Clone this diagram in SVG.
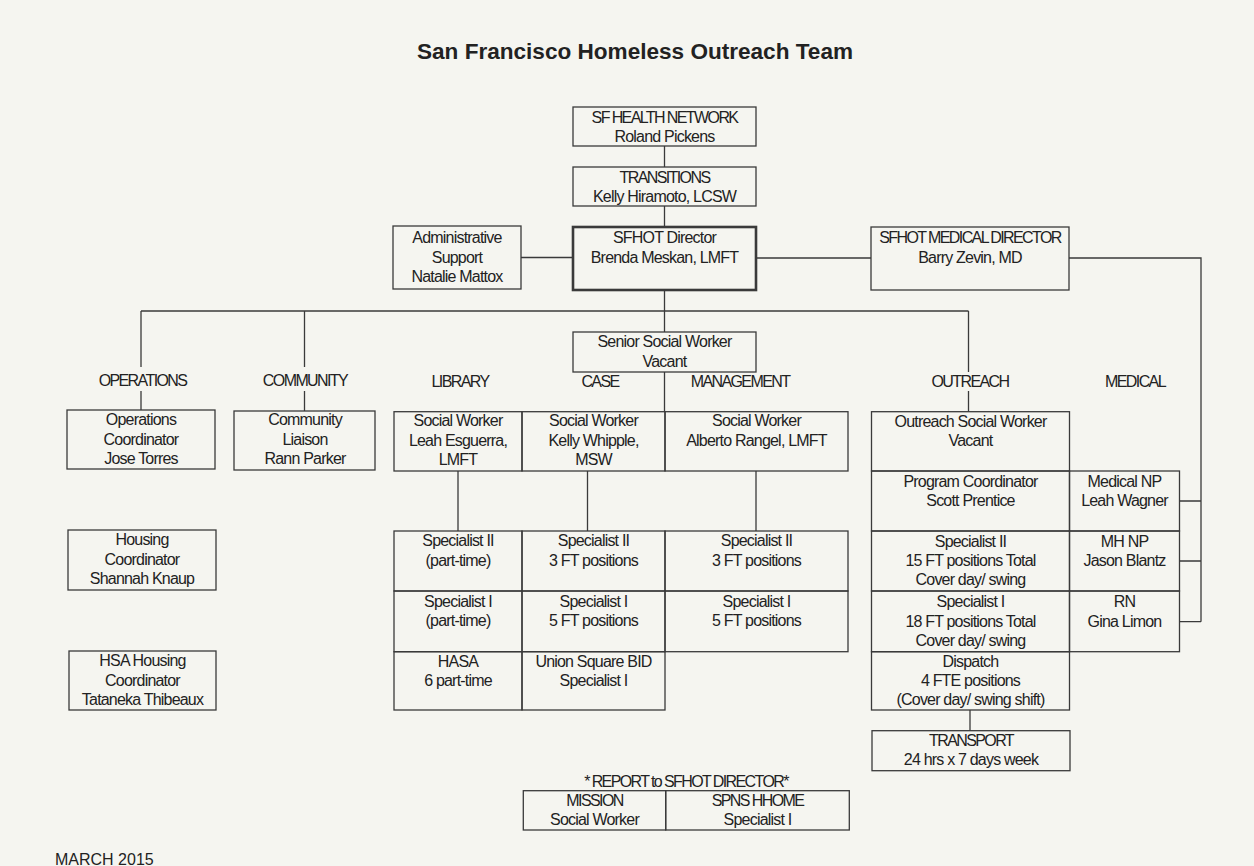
<svg xmlns="http://www.w3.org/2000/svg" width="1254" height="866" viewBox="0 0 1254 866">
<style>
.bx{fill:none;stroke:#3a3a3a;stroke-width:1.3}
.bold{stroke-width:2.6}
.ln{fill:none;stroke:#3a3a3a;stroke-width:1.3}
text{font-family:"Liberation Sans",Arial,sans-serif;font-size:16px;fill:#222;text-anchor:middle;letter-spacing:-0.8px}
.c{letter-spacing:-1.6px}
.title{font-size:22px;font-weight:bold;letter-spacing:0}
</style>
<rect x="0" y="0" width="1254" height="866" fill="#f5f5f0"/>
<text class="title" x="635" y="59" textLength="436" lengthAdjust="spacingAndGlyphs">San Francisco Homeless Outreach Team</text>

<g id="connectors">
<path class="ln" d="M664.5 146V167M664.5 206V227M664.5 290V332M664.5 372V411.7"/>
<path class="ln" d="M521 257.5H573M756 258H871"/>
<path class="ln" d="M1069 258H1201V621.7M1179.5 501H1201M1179.5 561H1201M1179.5 621.7H1201"/>
<path class="ln" d="M141 311H968.5"/>
<path class="ln" d="M141 311V367M141 391V410M304.5 311V367M304.5 391V411M968.5 311V372M968.5 391V411.7"/>
<path class="ln" d="M458 471V531M587.5 471V531M756 471V531"/>
<path class="ln" d="M970 710V730.7"/>
</g>

<g id="n-health"><rect class="bx" x="573" y="107" width="183" height="39"/>
<text class="c" x="664.5" y="123">SF HEALTH NETWORK</text><text x="664.5" y="142">Roland Pickens</text></g>
<g id="n-transitions"><rect class="bx" x="573" y="167" width="183" height="39"/>
<text class="c" x="664.5" y="182.5">TRANSITIONS</text><text x="664.5" y="201.7">Kelly Hiramoto, LCSW</text></g>
<g id="n-director"><rect class="bx bold" x="573" y="227" width="183" height="63"/>
<text x="664.5" y="243.3">SFHOT Director</text><text x="664.5" y="263">Brenda Meskan, LMFT</text></g>
<g id="n-admin"><rect class="bx" x="393" y="226" width="128" height="63"/>
<text x="457" y="242.7">Administrative</text><text x="457" y="262.7">Support</text><text x="457" y="281.7">Natalie Mattox</text></g>
<g id="n-meddir"><rect class="bx" x="871" y="227" width="198" height="63"/>
<text class="c" x="970" y="243.3">SFHOT MEDICAL DIRECTOR</text><text x="970" y="263.3">Barry Zevin, MD</text></g>
<g id="n-senior"><rect class="bx" x="573" y="332" width="183" height="40"/>
<text x="664.5" y="347.3">Senior Social Worker</text><text x="664.5" y="366.7">Vacant</text></g>

<g id="labels">
<text class="c" x="142.5" y="386">OPERATIONS</text>
<text class="c" x="305" y="386">COMMUNITY</text>
<text class="c" x="460" y="387">LIBRARY</text>
<text class="c" x="600" y="387">CASE</text>
<text class="c" x="740" y="387">MANAGEMENT</text>
<text class="c" x="970" y="387">OUTREACH</text>
<text class="c" x="1135" y="387">MEDICAL</text>
</g>

<g id="n-ops"><rect class="bx" x="67" y="410" width="148" height="59"/>
<text x="141" y="425">Operations</text><text x="141" y="445">Coordinator</text><text x="141" y="464.3">Jose Torres</text></g>
<g id="n-community"><rect class="bx" x="234" y="411" width="141" height="59"/>
<text x="305" y="425">Community</text><text x="305" y="445">Liaison</text><text x="305" y="464.3">Rann Parker</text></g>
<g id="n-housing"><rect class="bx" x="68" y="530" width="148" height="60"/>
<text x="142" y="545">Housing</text><text x="142" y="565">Coordinator</text><text x="142" y="584">Shannah Knaup</text></g>
<g id="n-hsa"><rect class="bx" x="69" y="651" width="147" height="59"/>
<text x="142.5" y="666">HSA Housing</text><text x="142.5" y="686">Coordinator</text><text x="142.5" y="705">Tataneka Thibeaux</text></g>

<g id="n-sw-library"><rect class="bx" x="394" y="411.7" width="128" height="59.3"/>
<text x="458" y="426">Social Worker</text><text x="458" y="446">Leah Esguerra,</text><text x="458" y="465">LMFT</text></g>
<g id="n-sw-case"><rect class="bx" x="522" y="411.7" width="143" height="59.3"/>
<text x="593.5" y="426">Social Worker</text><text x="593.5" y="446">Kelly Whipple,</text><text x="593.5" y="465">MSW</text></g>
<g id="n-sw-mgmt"><rect class="bx" x="665" y="411.7" width="183" height="59.3"/>
<text x="756.5" y="426">Social Worker</text><text x="756.5" y="446">Alberto Rangel, LMFT</text></g>

<g id="n-s2-library"><rect class="bx" x="394" y="531" width="128" height="60"/>
<text x="458" y="546">Specialist II</text><text x="458" y="565.7">(part-time)</text></g>
<g id="n-s2-case"><rect class="bx" x="522" y="531" width="143" height="60"/>
<text x="593.5" y="546">Specialist II</text><text x="593.5" y="565.7">3 FT positions</text></g>
<g id="n-s2-mgmt"><rect class="bx" x="665" y="531" width="183" height="60"/>
<text x="756.5" y="546">Specialist II</text><text x="756.5" y="565.7">3 FT positions</text></g>
<g id="n-s1-library"><rect class="bx" x="394" y="591" width="128" height="60.7"/>
<text x="458" y="606.7">Specialist I</text><text x="458" y="626">(part-time)</text></g>
<g id="n-s1-case"><rect class="bx" x="522" y="591" width="143" height="60.7"/>
<text x="593.5" y="606.7">Specialist I</text><text x="593.5" y="626">5 FT positions</text></g>
<g id="n-s1-mgmt"><rect class="bx" x="665" y="591" width="183" height="60.7"/>
<text x="756.5" y="606.7">Specialist I</text><text x="756.5" y="626">5 FT positions</text></g>
<g id="n-hasa"><rect class="bx" x="394" y="651.7" width="128" height="58.3"/>
<text x="458" y="666.7">HASA</text><text x="458" y="686">6 part-time</text></g>
<g id="n-usbid"><rect class="bx" x="522" y="651.7" width="143" height="58.3"/>
<text x="593.5" y="666.7">Union Square BID</text><text x="593.5" y="686">Specialist I</text></g>

<g id="n-outreach-sw"><rect class="bx" x="871.5" y="411.7" width="198" height="59.3"/>
<text x="970.5" y="426.7">Outreach Social Worker</text><text x="970.5" y="446">Vacant</text></g>
<g id="n-prog-coord"><rect class="bx" x="871.5" y="471" width="198" height="60"/>
<text x="970.5" y="486.7">Program Coordinator</text><text x="970.5" y="506">Scott Prentice</text></g>
<g id="n-s2-out"><rect class="bx" x="871.5" y="531" width="198" height="60"/>
<text x="970.5" y="546.7">Specialist II</text><text x="970.5" y="566">15 FT positions Total</text><text x="970.5" y="585">Cover day/ swing</text></g>
<g id="n-s1-out"><rect class="bx" x="871.5" y="591" width="198" height="60.7"/>
<text x="970.5" y="606.7">Specialist I</text><text x="970.5" y="626.7">18 FT positions Total</text><text x="970.5" y="646">Cover day/ swing</text></g>
<g id="n-dispatch"><rect class="bx" x="871.5" y="651.7" width="198" height="58.3"/>
<text x="970.5" y="666.7">Dispatch</text><text x="970.5" y="686">4 FTE positions</text><text x="970.5" y="705">(Cover day/ swing shift)</text></g>
<g id="n-transport"><rect class="bx" x="872" y="730.7" width="198" height="40"/>
<text class="c" x="971" y="745.7">TRANSPORT</text><text x="971" y="765">24 hrs x 7 days week</text></g>

<g id="n-medical-np"><rect class="bx" x="1069.5" y="471" width="110" height="60"/>
<text x="1124.5" y="486.7">Medical NP</text><text x="1124.5" y="506">Leah Wagner</text></g>
<g id="n-mh-np"><rect class="bx" x="1069.5" y="531" width="110" height="60"/>
<text x="1124.5" y="546.7">MH NP</text><text x="1124.5" y="566">Jason Blantz</text></g>
<g id="n-rn"><rect class="bx" x="1069.5" y="591" width="110" height="60.7"/>
<text x="1124.5" y="606.7">RN</text><text x="1124.5" y="626.7">Gina Limon</text></g>

<text class="c" x="686" y="786.7">* REPORT to SFHOT DIRECTOR*</text>
<g id="n-mission"><rect class="bx" x="523.3" y="790.7" width="142.4" height="39.3"/>
<text class="c" x="594.5" y="805.5">MISSION</text><text x="594.5" y="824.5">Social Worker</text></g>
<g id="n-spns"><rect class="bx" x="665.7" y="790.7" width="183.6" height="39.3"/>
<text class="c" x="757.5" y="805.5">SPNS HHOME</text><text x="757.5" y="824.5">Specialist I</text></g>

<text x="55" y="864.5" style="text-anchor:start;letter-spacing:0">MARCH 2015</text>
</svg>
